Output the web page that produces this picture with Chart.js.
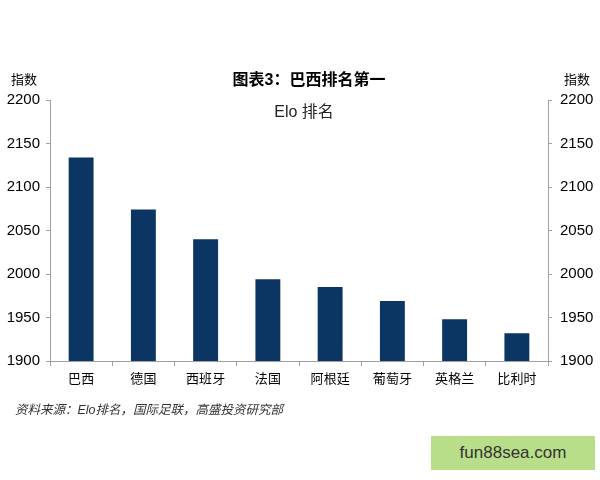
<!DOCTYPE html>
<html><head><meta charset="utf-8">
<script src="https://cdn.jsdelivr.net/npm/chart.js@4/dist/chart.umd.min.js"></script>
<style>
html,body{margin:0;padding:0;background:#fff;}
#wrap{position:relative;width:600px;height:480px;overflow:hidden;font-family:"Liberation Sans","Noto Sans CJK SC",sans-serif;}
canvas{position:absolute;left:0;top:0;}
.t{position:absolute;white-space:nowrap;color:#000;}
#title{left:0;width:618px;text-align:center;top:66px;font-size:16px;font-weight:bold;}
#sub{left:0;width:608px;text-align:center;top:98px;font-size:16px;color:#222;}
#yl{left:11px;top:69px;font-size:13px;}
#yr{left:564px;top:69px;font-size:13px;}
#src{left:15px;top:399px;font-size:12.5px;font-style:italic;color:#333;}
#wm{left:431px;top:436px;width:164px;height:34px;background:#b9de8a;color:#333;font-size:17px;line-height:34px;text-align:center;}
</style></head>
<body><div id="wrap">
<canvas id="c" width="600" height="480"></canvas>
<div class="t" id="title">图表3：巴西排名第一</div>
<div class="t" id="sub">Elo 排名</div>
<div class="t" id="yl">指数</div>
<div class="t" id="yr">指数</div>
<div class="t" id="src">资料来源：Elo排名，国际足联，高盛投资研究部</div>
<div class="t" id="wm">fun88sea.com</div>
</div>
<script>
const categories = ["巴西","德国","西班牙","法国","阿根廷","葡萄牙","英格兰","比利时"];
const eloValues = [2134, 2074, 2040, 1994, 1985, 1969, 1948, 1932];
const yMin = 1900, yMax = 2200, yStep = 50;

const axisColor = '#a0a0a0';
const numFont = {family:'"Liberation Sans", Arial, sans-serif', size:15};
const plain = v => String(v);
new Chart(document.getElementById('c'), {
  type:'bar',
  data:{labels:categories, datasets:[{data:eloValues, backgroundColor:'#0b3562', categoryPercentage:1, barPercentage:0.4, yAxisID:'y'}]},
  options:{
    responsive:false, animation:false, devicePixelRatio:1,
    layout:{padding:{top:100,left:0,right:0,bottom:0}},
    plugins:{legend:{display:false}, tooltip:{enabled:false}},
    scales:{
      x:{
        grid:{drawOnChartArea:false, drawTicks:true, tickLength:5, color:axisColor},
        border:{display:true,color:axisColor},
        ticks:{color:'#000', font:{family:'"Noto Sans CJK SC", sans-serif', size:13}, padding:4, maxRotation:0},
        afterFit:s=>{s.height=119;}
      },
      y:{
        position:'left', min:yMin, max:yMax,
        grid:{drawOnChartArea:false, drawTicks:true, tickLength:4, color:axisColor},
        border:{display:true,color:axisColor},
        ticks:{stepSize:yStep, color:'#000', font:numFont, padding:6, callback:plain},
        afterFit:s=>{s.width=50;}
      },
      y2:{
        position:'right', min:yMin, max:yMax,
        grid:{drawOnChartArea:false, drawTicks:true, tickLength:4, color:axisColor},
        border:{display:true,color:axisColor},
        ticks:{stepSize:yStep, color:'#000', font:numFont, padding:8, callback:plain},
        afterFit:s=>{s.width=52;}
      }
    }
  }
});
</script>
</body></html>
